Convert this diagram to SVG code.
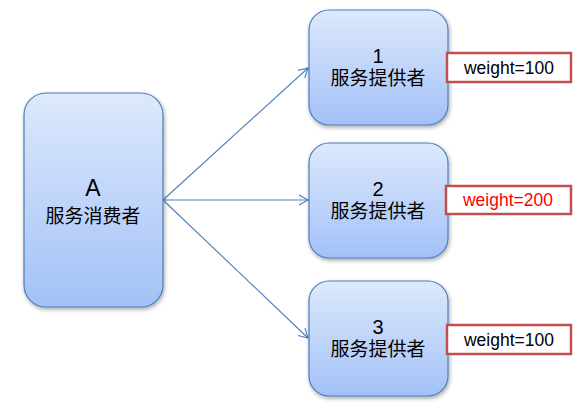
<svg xmlns="http://www.w3.org/2000/svg" width="586" height="418" viewBox="0 0 586 418">
<style>
.box{stroke:#4a7ebb;stroke-width:1.2;fill:url(#g)}
.t{font-family:"Liberation Sans","Noto Sans CJK SC",sans-serif;fill:#000;text-anchor:middle}
.big{font-size:23px}
.cn{font-size:19px}
.num{font-size:20px}
.w{fill:#fff;stroke:#c0504d;stroke-width:2.5}
.wt{font-family:"Liberation Sans",sans-serif;font-size:17.5px;text-anchor:middle}
.c{stroke:#4a7ebb;stroke-width:1.1;fill:none}
</style>
<defs>
<linearGradient id="g" x1="0" y1="0" x2="0" y2="1">
<stop offset="0" stop-color="#dde9fc"/>
<stop offset="1" stop-color="#a3c1f7"/>
</linearGradient>
<filter id="sh" x="-10%" y="-10%" width="130%" height="130%">
<feGaussianBlur in="SourceAlpha" stdDeviation="2"/>
<feOffset dx="1" dy="2"/>
<feComponentTransfer><feFuncA type="linear" slope="0.35"/></feComponentTransfer>
<feMerge><feMergeNode/><feMergeNode in="SourceGraphic"/></feMerge>
</filter>
<marker id="ah" markerWidth="12" markerHeight="12" refX="10" refY="6" orient="auto" markerUnits="userSpaceOnUse">
<path d="M1,1 L10,6 L1,11" fill="none" stroke="#4a7ebb" stroke-width="1.1"/>
</marker>
</defs>
<g id="connectors">
<line class="c" x1="163" y1="200" x2="308" y2="68" marker-end="url(#ah)"/>
<line class="c" x1="163" y1="200" x2="308" y2="200" marker-end="url(#ah)"/>
<line class="c" x1="163" y1="200" x2="308" y2="338" marker-end="url(#ah)"/>
</g>
<g id="A">
<rect class="box" filter="url(#sh)" x="24" y="93" width="139" height="214" rx="22"/>
<text class="t big" x="93" y="196">A</text>
<text class="t cn" x="93" y="223">服务消费者</text>
</g>
<g id="p1">
<rect class="box" filter="url(#sh)" x="309" y="10" width="139" height="115" rx="20"/>
<text class="t num" x="378" y="63">1</text>
<text class="t cn" x="378" y="85">服务提供者</text>
</g>
<g id="p2">
<rect class="box" filter="url(#sh)" x="309" y="143" width="139" height="115" rx="20"/>
<text class="t num" x="378" y="196">2</text>
<text class="t cn" x="378" y="218">服务提供者</text>
</g>
<g id="p3">
<rect class="box" filter="url(#sh)" x="309" y="281" width="139" height="115" rx="20"/>
<text class="t num" x="378" y="334">3</text>
<text class="t cn" x="378" y="356">服务提供者</text>
</g>
<g id="w1">
<rect class="w" x="447" y="53" width="124" height="29"/>
<text class="wt" x="509" y="74" fill="#000">weight=100</text>
</g>
<g id="w2">
<rect class="w" x="446" y="186" width="125" height="28"/>
<text class="wt" x="508" y="206" fill="#ff0000">weight=200</text>
</g>
<g id="w3">
<rect class="w" x="447" y="325" width="124" height="29"/>
<text class="wt" x="509" y="346" fill="#000">weight=100</text>
</g>
</svg>
